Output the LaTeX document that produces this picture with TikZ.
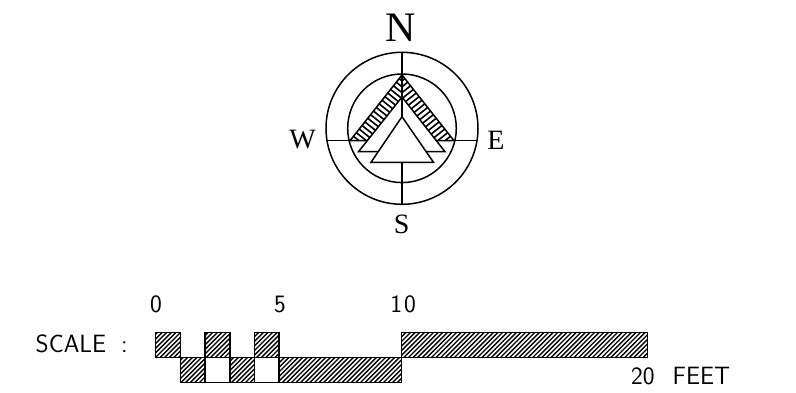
\documentclass[tikz,border=0pt]{standalone}
\usepackage{fontspec}
\setmainfont{Liberation Serif}
\begin{document}
\begin{tikzpicture}[
    x=1pt, y=-1pt,
    outline/.style={draw=black, line width=1.5pt},
    hatchline/.style={black, line width=1.6pt},
    barhatch/.style={black, line width=1.35pt},
    compass/.style={font=\rmfamily\fontsize{42}{42}\selectfont, inner sep=0pt},
    dirlabel/.style={font=\rmfamily\fontsize{28}{28}\selectfont, inner sep=0pt},
    scaletext/.style={font=\sffamily\fontsize{25}{25}\selectfont, inner sep=0pt}
]
    \useasboundingbox (0, 0) rectangle (796, 393);
    % Hatched band of the arrow
    \coordinate (apex) at (402, 75);
    \coordinate (wtip) at (350, 140.7);
    \coordinate (etip) at (454, 140.7);
    \coordinate (wfoot) at (368, 140.7);
    \coordinate (efoot) at (436, 140.7);
    \coordinate (notch) at (402, 97);
    \begin{scope}
        \clip (apex) -- (etip) -- (efoot) -- (notch) -- cycle;
        \foreach \t in {0,4.6,...,110} {
            \draw[hatchline] (402+0.62*\t+10, 75+0.784*\t-8) -- ++(-50, 40);
        }
    \end{scope}
    \begin{scope}
        \clip (apex) -- (wtip) -- (wfoot) -- (notch) -- cycle;
        \foreach \t in {0,4.6,...,110} {
            \draw[hatchline] (402-0.62*\t-10, 75+0.784*\t-8) -- ++(50, 40);
        }
    \end{scope}
    \draw[outline] (wfoot) -- (wtip) -- (apex) -- (etip) -- (efoot);

    % Circles and cross
    \node[outline, circle, minimum size=152pt, inner sep=0pt] (outer) at (402, 128.3) {};
    \node[outline, circle, minimum size=108.6pt, inner sep=0pt] (inner) at (402, 128.3) {};
    \coordinate (wend) at (327, 140.7);
    \coordinate (eend) at (477, 140.7);
    \draw[outline] (wend) -- (wfoot);
    \draw[outline] (efoot) -- (eend);

    % Arrow triangles
    \node[coordinate] (midl) at (358.5, 151.7) {};
    \node[coordinate] (midr) at (445, 151.7) {};
    \draw[outline, fill=white] (notch) -- (midl) -- (midr) -- cycle;
    \draw[outline] (outer.north) -- (outer.south);
    \draw[outline, fill=white] (402, 116.7) -- (371, 162.3) -- (433.5, 162.3) -- cycle;

    % Compass letters
    \node[compass] (north) at (401, 28) {N};
    \node[dirlabel] (west) at (302.5, 140) {W};
    \node[dirlabel] (east) at (496, 140) {E};
    \node[dirlabel] (south) at (401.7, 224) {S};

    % Scale bar
    \foreach \xa/\ya/\xb/\yb in {155.7/332.7/180.3/357.3, 205/332.7/230/357.3, 254.3/332.7/279/357.3,
        180.3/357.3/205/382.3, 230/357.3/254.3/382.3, 279/357.3/401.7/382.3, 401.7/332.7/647.7/357.3} {
        \begin{scope}
            \clip (\xa, \ya) rectangle (\xb, \yb);
            \foreach \i in {0,...,130} {
                \draw[barhatch] (100+4.6*\i, 390) -- ++(60, -60);
            }
        \end{scope}
        \draw[outline] (\xa, \ya) rectangle (\xb, \yb);
    }
    \draw[outline] (205, 357.3) rectangle (230, 382.3);
    \draw[outline] (254.3, 357.3) rectangle (279, 382.3);

    % Scale labels
    \node[scaletext, anchor=west] (scalelabel) at (35.5, 343.5) {SCALE\hspace{15pt}:};
    \node[scaletext] (zero) at (156, 304) {0};
    \node[scaletext] (five) at (280, 304) {5};
    \node[scaletext] (ten) at (403, 304) {1\hspace{2pt}0};
    \node[scaletext, anchor=west] (feet) at (631, 376) {20\hspace{18pt}FEET};
\end{tikzpicture}
\end{document}
